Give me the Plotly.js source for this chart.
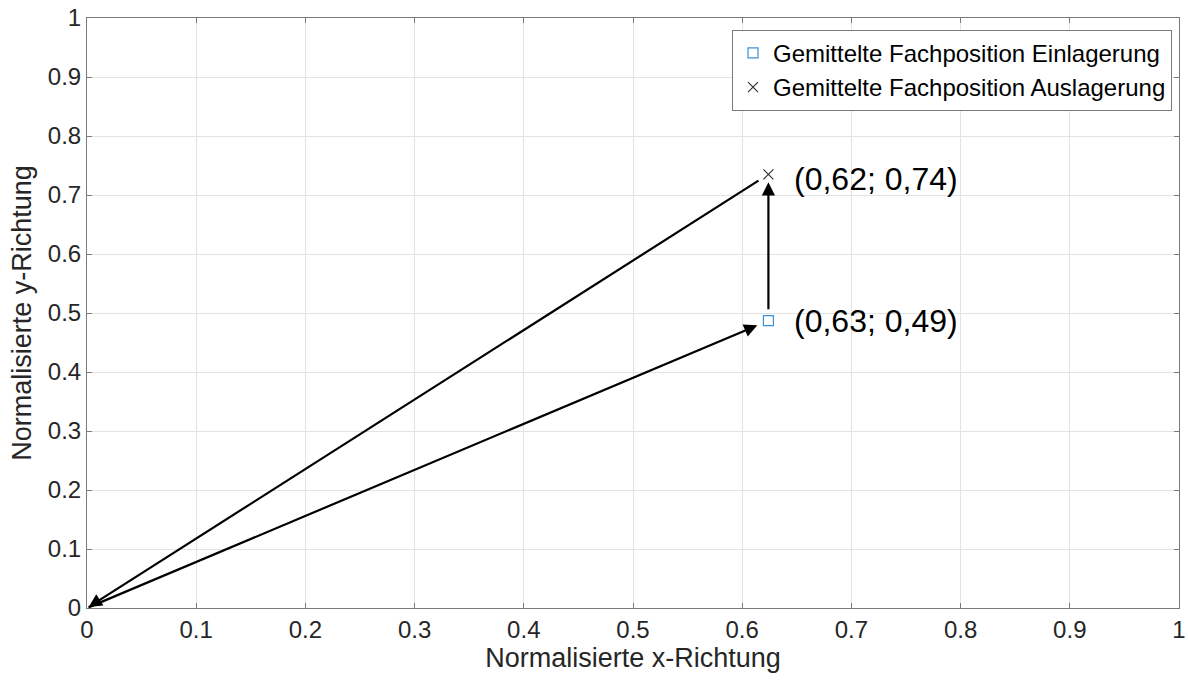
<!DOCTYPE html>
<html>
<head>
<meta charset="utf-8">
<script src="https://cdn.plot.ly/plotly-3.0.1.min.js"></script>
<style>html,body{margin:0;padding:0;background:#fff;}#chart{width:1188px;height:680px;}</style>
</head>
<body>
<div id="chart"></div>
<script>
// Data
const seriesNames = ["Gemittelte Fachposition Einlagerung", "Gemittelte Fachposition Auslagerung"];
const einX = [0.624];
const einY = [0.487];
const ausX = [0.624];
const ausY = [0.735];
const originX = 0;
const originY = 0;
const labelEin = "(0,63; 0,49)";
const labelAus = "(0,62; 0,74)";

const font = "Liberation Sans, Arial, sans-serif";
const txt = "#262626";

const traces = [
  {x: einX, y: einY, mode: "markers", type: "scatter", name: seriesNames[0],
   marker: {symbol: "square-open", size: 10, color: "#3d8fd6", line: {width: 1.2}}},
  {x: ausX, y: ausY, mode: "markers", type: "scatter", name: seriesNames[1],
   marker: {symbol: "x-thin-open", size: 10, color: "#333", line: {width: 1.2}}}
];

const arrowCommon = {xref: "x", yref: "y", axref: "x", ayref: "y", text: "", showarrow: true,
  arrowhead: 2, arrowsize: 1.2, arrowwidth: 2.2, arrowcolor: "#000"};

const annotations = [
  Object.assign({}, arrowCommon, {x: einX[0], y: einY[0], ax: originX, ay: originY, standoff: 12}),
  Object.assign({}, arrowCommon, {x: originX, y: originY, ax: ausX[0], ay: ausY[0], startstandoff: 10, standoff: 2}),
  Object.assign({}, arrowCommon, {x: ausX[0], y: ausY[0], ax: einX[0], ay: einY[0], standoff: 8, startstandoff: 10}),
  {xref: "x", yref: "y", x: einX[0], y: einY[0], text: labelEin, showarrow: false, xanchor: "left", yanchor: "middle",
   xshift: 24, font: {family: font, size: 32, color: "#000"}},
  {xref: "x", yref: "y", x: ausX[0], y: ausY[0], text: labelAus, showarrow: false, xanchor: "left", yanchor: "middle",
   xshift: 24, yshift: -5, font: {family: font, size: 32, color: "#000"}}
];

const axisCommon = {range: [0, 1], dtick: 0.1, tick0: 0, showgrid: true, gridcolor: "#e3e3e3", gridwidth: 1,
  zeroline: false, showline: true, linecolor: "#7a7a7a", linewidth: 1, mirror: "ticks",
  ticks: "inside", ticklen: 5, tickcolor: "#7a7a7a", tickfont: {family: font, size: 24, color: txt}};

const layout = {
  width: 1188, height: 680,
  margin: {l: 87, r: 9, t: 18, b: 72},
  paper_bgcolor: "#fff", plot_bgcolor: "#fff",
  font: {family: font, color: txt},
  showlegend: true,
  legend: {x: 0.9936, y: 0.98, xanchor: "right", yanchor: "top", bgcolor: "#fff",
    bordercolor: "#7a7a7a", borderwidth: 1, font: {family: font, size: 24, color: "#000"},
    tracegroupgap: 0, itemwidth: 30},
  xaxis: Object.assign({}, axisCommon, {title: {text: "Normalisierte x-Richtung", standoff: 6,
    font: {family: font, size: 27, color: txt}}}),
  yaxis: Object.assign({}, axisCommon, {title: {text: "Normalisierte y-Richtung", standoff: 8,
    font: {family: font, size: 27, color: txt}}}),
  annotations: annotations
};

Plotly.newPlot("chart", traces, layout, {displayModeBar: false, staticPlot: true});
</script>
</body>
</html>
